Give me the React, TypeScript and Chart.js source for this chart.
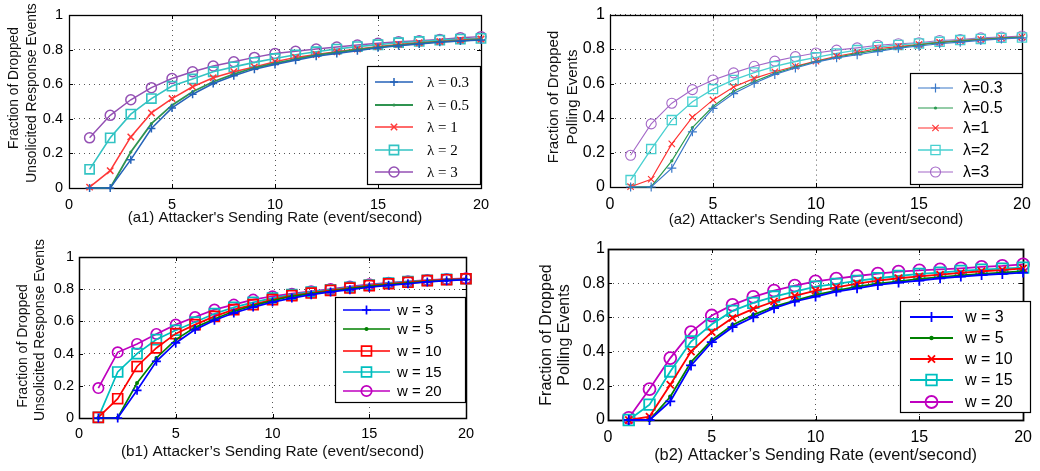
import React, { useEffect, useRef } from "react";
import { Chart, registerables } from "chart.js";
Chart.register(...registerables);

// ---------- data ----------
const xValues = [1, 2, 3, 4, 5, 6, 7, 8, 9, 10, 11, 12, 13, 14, 15, 16, 17, 18, 19, 20];
const yTicks = [0, 0.2, 0.4, 0.6, 0.8, 1];
const xTicks = [0, 5, 10, 15, 20];

const a1Labels = ["λ = 0.3", "λ = 0.5", "λ = 1", "λ = 2", "λ = 3"];
const a1L03 = [0, 0, 0.164, 0.344, 0.463, 0.542, 0.604, 0.649, 0.687, 0.714, 0.739, 0.762, 0.778, 0.793, 0.81, 0.822, 0.832, 0.842, 0.849, 0.855];
const a1L05 = [0, 0, 0.208, 0.372, 0.479, 0.556, 0.614, 0.658, 0.695, 0.72, 0.745, 0.768, 0.784, 0.8, 0.813, 0.826, 0.836, 0.846, 0.851, 0.859];
const a1L1 = [0.005, 0.1, 0.295, 0.434, 0.517, 0.585, 0.637, 0.672, 0.7, 0.73, 0.755, 0.772, 0.788, 0.803, 0.817, 0.83, 0.84, 0.847, 0.855, 0.861];
const a1L2 = [0.108, 0.29, 0.427, 0.517, 0.589, 0.63, 0.672, 0.7, 0.726, 0.749, 0.77, 0.788, 0.803, 0.817, 0.828, 0.84, 0.847, 0.855, 0.861, 0.865];
const a1L3 = [0.29, 0.42, 0.51, 0.58, 0.633, 0.672, 0.705, 0.73, 0.755, 0.778, 0.79, 0.803, 0.815, 0.826, 0.836, 0.846, 0.851, 0.859, 0.869, 0.875];

const a2Labels = ["λ=0.3", "λ=0.5", "λ=1", "λ=2", "λ=3"];
const a2L03 = [0, 0, 0.109, 0.32, 0.456, 0.542, 0.602, 0.653, 0.69, 0.724, 0.749, 0.767, 0.786, 0.805, 0.818, 0.831, 0.84, 0.85, 0.859, 0.865];
const a2L05 = [0, 0.002, 0.152, 0.345, 0.467, 0.555, 0.612, 0.659, 0.696, 0.728, 0.752, 0.775, 0.794, 0.809, 0.824, 0.837, 0.846, 0.855, 0.863, 0.869];
const a2L1 = [0.002, 0.045, 0.25, 0.405, 0.505, 0.58, 0.63, 0.668, 0.7, 0.73, 0.758, 0.78, 0.803, 0.814, 0.827, 0.84, 0.85, 0.857, 0.865, 0.87];
const a2L2 = [0.04, 0.22, 0.388, 0.495, 0.568, 0.621, 0.664, 0.7, 0.728, 0.752, 0.775, 0.794, 0.812, 0.824, 0.833, 0.842, 0.852, 0.859, 0.865, 0.867];
const a2L3 = [0.184, 0.366, 0.486, 0.565, 0.621, 0.662, 0.7, 0.73, 0.756, 0.777, 0.794, 0.807, 0.822, 0.831, 0.837, 0.85, 0.855, 0.865, 0.87, 0.876];

const b1Labels = ["w = 3", "w = 5", "w = 10", "w = 15", "w = 20"];
const b1W3 = [0, 0, 0.172, 0.352, 0.466, 0.549, 0.607, 0.652, 0.689, 0.72, 0.745, 0.766, 0.783, 0.797, 0.812, 0.824, 0.834, 0.845, 0.853, 0.859];
const b1W5 = [0, 0.002, 0.217, 0.373, 0.487, 0.563, 0.615, 0.663, 0.698, 0.729, 0.756, 0.772, 0.787, 0.803, 0.818, 0.828, 0.838, 0.847, 0.855, 0.861];
const b1W10 = [0.004, 0.12, 0.32, 0.435, 0.524, 0.58, 0.631, 0.673, 0.704, 0.735, 0.76, 0.776, 0.793, 0.807, 0.822, 0.834, 0.843, 0.853, 0.859, 0.865];
const b1W15 = [0.004, 0.286, 0.4, 0.487, 0.545, 0.596, 0.648, 0.687, 0.718, 0.745, 0.766, 0.783, 0.797, 0.812, 0.826, 0.838, 0.847, 0.855, 0.861, 0.865];
const b1W20 = [0.186, 0.408, 0.46, 0.522, 0.58, 0.627, 0.673, 0.704, 0.735, 0.756, 0.772, 0.787, 0.801, 0.816, 0.83, 0.84, 0.849, 0.857, 0.863, 0.867];

const b2Labels = ["w = 3", "w = 5", "w = 10", "w = 15", "w = 20"];
const b2W3 = [0, 0, 0.109, 0.319, 0.455, 0.543, 0.601, 0.654, 0.693, 0.722, 0.751, 0.77, 0.79, 0.804, 0.815, 0.829, 0.839, 0.848, 0.854, 0.862];
const b2W5 = [0, 0, 0.136, 0.339, 0.467, 0.556, 0.615, 0.663, 0.698, 0.732, 0.757, 0.78, 0.798, 0.811, 0.825, 0.835, 0.846, 0.854, 0.862, 0.87];
const b2W10 = [0, 0.02, 0.206, 0.4, 0.514, 0.597, 0.65, 0.693, 0.726, 0.757, 0.776, 0.798, 0.815, 0.829, 0.84, 0.85, 0.86, 0.87, 0.877, 0.887];
const b2W15 = [0, 0.09, 0.284, 0.459, 0.56, 0.638, 0.685, 0.722, 0.751, 0.78, 0.796, 0.813, 0.829, 0.842, 0.854, 0.862, 0.872, 0.879, 0.885, 0.891];
const b2W20 = [0.012, 0.181, 0.362, 0.514, 0.611, 0.673, 0.72, 0.757, 0.786, 0.811, 0.827, 0.842, 0.856, 0.868, 0.875, 0.881, 0.887, 0.895, 0.901, 0.91];

// ---------- styles ----------
type Marker = "plus" | "dot" | "x" | "square" | "circle";
type Series = { label: string; data: number[]; color: string; marker: Marker; radius: number; lw: number };
type Panel = {
  left: number; top: number; width: number; height: number;
  yAxisW: number; xAxisH: number; padTop: number; padRight: number;
  tickFont: number; xTickPad: number; yTickPad: number; frameW: number;
  xTitle: string; xTitleFont: number; xTitlePadBottom: number;
  yTitle: string[]; yTitleFont: number; yTitleX: number[]; yTitleCY: number[];
  legend: { x: number; y: number; w: number; h: number; rows: number[]; lx0: number; lx1: number; tx: number; font: string };
  series: Series[];
};

const SANS = "'Liberation Sans', Arial, Helvetica, sans-serif";
const SERIF = "'Liberation Serif', 'Times New Roman', serif";

const panels: Panel[] = [
  {
    left: 0, top: 0, width: 500, height: 232,
    yAxisW: 69, xAxisH: 44, padTop: 15, padRight: 19,
    tickFont: 14.5, xTickPad: 8, yTickPad: 6, frameW: 1.3,
    xTitle: "(a1) Attacker's Sending Rate (event/second)", xTitleFont: 15, xTitlePadBottom: 5,
    yTitle: ["Fraction of Dropped", "Unsolicited Response Events"], yTitleFont: 13.8, yTitleX: [14, 32], yTitleCY: [88, 93],
    legend: { x: 367, y: 66, w: 113, h: 118, rows: [82, 105, 127, 150, 172], lx0: 375, lx1: 413, tx: 427, font: `15px ${SERIF}` },
    series: [
      { label: a1Labels[0], data: a1L03, color: "#2462b8", marker: "plus", radius: 4, lw: 1.5 },
      { label: a1Labels[1], data: a1L05, color: "#2f9350", marker: "dot", radius: 1.6, lw: 1.8 },
      { label: a1Labels[2], data: a1L1, color: "#ff3838", marker: "x", radius: 4.5, lw: 1.5 },
      { label: a1Labels[3], data: a1L2, color: "#33c3c3", marker: "square", radius: 6.5, lw: 1.6 },
      { label: a1Labels[4], data: a1L3, color: "#9450b4", marker: "circle", radius: 5, lw: 1.5 },
    ],
  },
  {
    left: 520, top: 0, width: 520, height: 232,
    yAxisW: 90, xAxisH: 45, padTop: 9, padRight: 18,
    tickFont: 16, xTickPad: 8, yTickPad: 5, frameW: 1.3,
    xTitle: "(a2) Attacker's Sending Rate (event/second)", xTitleFont: 15, xTitlePadBottom: 3,
    yTitle: ["Fraction of Dropped", "Polling Events"], yTitleFont: 15, yTitleX: [34, 53], yTitleCY: [97, 97],
    legend: { x: 390, y: 73, w: 112, h: 111, rows: [88, 108, 128, 150, 172], lx0: 398, lx1: 433, tx: 443, font: `16px ${SANS}` },
    series: [
      { label: a2Labels[0], data: a2L03, color: "#3a78c8", marker: "plus", radius: 4.5, lw: 1.2 },
      { label: a2Labels[1], data: a2L05, color: "#2a9a50", marker: "dot", radius: 1.6, lw: 1.2 },
      { label: a2Labels[2], data: a2L1, color: "#ff3030", marker: "x", radius: 4.5, lw: 1.1 },
      { label: a2Labels[3], data: a2L2, color: "#48d0d0", marker: "square", radius: 6.5, lw: 1.3 },
      { label: a2Labels[4], data: a2L3, color: "#a468c8", marker: "circle", radius: 5, lw: 1.1 },
    ],
  },
  {
    left: 0, top: 235, width: 500, height: 236,
    yAxisW: 79, xAxisH: 53, padTop: 22, padRight: 34,
    tickFont: 14.5, xTickPad: 7, yTickPad: 5, frameW: 1.5,
    xTitle: "(b1) Attacker’s Sending Rate (event/second)", xTitleFont: 15.4, xTitlePadBottom: 9.7,
    yTitle: ["Fraction of Dropped", "Unsolicited Response Events"], yTitleFont: 14, yTitleX: [23, 40], yTitleCY: [111, 95],
    legend: { x: 335, y: 62, w: 130, h: 105, rows: [75, 94, 116, 137, 156], lx0: 343, lx1: 390, tx: 397, font: `15px ${SANS}` },
    series: [
      { label: b1Labels[0], data: b1W3, color: "#0000ff", marker: "plus", radius: 4.5, lw: 1.7 },
      { label: b1Labels[1], data: b1W5, color: "#008000", marker: "dot", radius: 2, lw: 1.7 },
      { label: b1Labels[2], data: b1W10, color: "#ff0000", marker: "square", radius: 7, lw: 1.7 },
      { label: b1Labels[3], data: b1W15, color: "#00bfbf", marker: "square", radius: 7, lw: 1.7 },
      { label: b1Labels[4], data: b1W20, color: "#bf00bf", marker: "circle", radius: 5.2, lw: 1.7 },
    ],
  },
  {
    left: 520, top: 235, width: 520, height: 236,
    yAxisW: 88, xAxisH: 51, padTop: 14, padRight: 9,
    tickFont: 16, xTickPad: 8, yTickPad: 3, frameW: 1.8,
    xTitle: "(b2) Attacker’s Sending Rate (event/second)", xTitleFont: 16.4, xTitlePadBottom: 6,
    yTitle: ["Fraction of Dropped", "Polling Events"], yTitleFont: 16, yTitleX: [27, 45], yTitleCY: [100, 100],
    legend: { x: 380, y: 66, w: 130, h: 111, rows: [82, 103, 124, 145, 167], lx0: 390, lx1: 433, tx: 445, font: `16px ${SANS}` },
    series: [
      { label: b2Labels[0], data: b2W3, color: "#0000ff", marker: "plus", radius: 5, lw: 1.8 },
      { label: b2Labels[1], data: b2W5, color: "#008000", marker: "dot", radius: 2.2, lw: 1.8 },
      { label: b2Labels[2], data: b2W10, color: "#ff0000", marker: "x", radius: 5, lw: 1.8 },
      { label: b2Labels[3], data: b2W15, color: "#00bfbf", marker: "square", radius: 7.5, lw: 1.8 },
      { label: b2Labels[4], data: b2W20, color: "#bf00bf", marker: "circle", radius: 6, lw: 1.8 },
    ],
  },
];

const pointStyleOf: Record<Marker, string> = {
  plus: "cross", dot: "circle", x: "crossRot", square: "rect", circle: "circle",
};

function drawMarker(ctx: CanvasRenderingContext2D, m: Marker, x: number, y: number, r: number, color: string, lw: number) {
  ctx.save();
  ctx.strokeStyle = color;
  ctx.fillStyle = color;
  ctx.lineWidth = lw;
  ctx.beginPath();
  if (m === "plus") {
    ctx.moveTo(x - r, y); ctx.lineTo(x + r, y);
    ctx.moveTo(x, y - r); ctx.lineTo(x, y + r);
    ctx.stroke();
  } else if (m === "x") {
    const d = r * Math.SQRT1_2;
    ctx.moveTo(x - d, y - d); ctx.lineTo(x + d, y + d);
    ctx.moveTo(x - d, y + d); ctx.lineTo(x + d, y - d);
    ctx.stroke();
  } else if (m === "square") {
    const s = r * Math.SQRT1_2;
    ctx.rect(x - s, y - s, 2 * s, 2 * s);
    ctx.stroke();
  } else if (m === "circle") {
    ctx.arc(x, y, r, 0, Math.PI * 2);
    ctx.stroke();
  } else {
    ctx.arc(x, y, r, 0, Math.PI * 2);
    ctx.fill();
  }
  ctx.restore();
}

function makeDecor(p: Panel) {
  return {
    id: "decor",
    beforeDatasetsDraw(chart: any) {
      const { ctx, chartArea: a, scales } = chart;
      ctx.save();
      ctx.strokeStyle = "#000";
      ctx.lineWidth = p.frameW;
      ctx.strokeRect(Math.round(a.left) + 0.5, Math.round(a.top) + 0.5, Math.round(a.right - a.left), Math.round(a.bottom - a.top));
      const tl = 4;
      ctx.lineWidth = 1;
      ctx.beginPath();
      for (const t of scales.x.ticks) {
        const px = Math.round(scales.x.getPixelForValue(t.value)) + 0.5;
        ctx.moveTo(px, a.bottom); ctx.lineTo(px, a.bottom - tl);
        ctx.moveTo(px, a.top); ctx.lineTo(px, a.top + tl);
      }
      for (const t of scales.y.ticks) {
        const py = Math.round(scales.y.getPixelForValue(t.value)) + 0.5;
        ctx.moveTo(a.left, py); ctx.lineTo(a.left + tl, py);
        ctx.moveTo(a.right, py); ctx.lineTo(a.right - tl, py);
      }
      ctx.stroke();
      ctx.restore();
    },
    afterDraw(chart: any) {
      const ctx: CanvasRenderingContext2D = chart.ctx;
      // y-axis title (two lines, rotated)
      ctx.save();
      ctx.fillStyle = "#111";
      ctx.font = `${p.yTitleFont}px ${SANS}`;
      ctx.textAlign = "center";
      ctx.textBaseline = "middle";
      p.yTitle.forEach((line, i) => {
        ctx.save();
        ctx.translate(p.yTitleX[i], p.yTitleCY[i]);
        ctx.rotate(-Math.PI / 2);
        ctx.fillText(line, 0, 0);
        ctx.restore();
      });
      ctx.restore();
      // legend box
      const L = p.legend;
      ctx.save();
      ctx.fillStyle = "#fff";
      ctx.fillRect(L.x, L.y, L.w, L.h);
      ctx.strokeStyle = "#000";
      ctx.lineWidth = 1.2;
      ctx.strokeRect(L.x + 0.5, L.y + 0.5, L.w, L.h);
      ctx.font = L.font;
      ctx.textBaseline = "middle";
      ctx.textAlign = "left";
      chart.data.datasets.forEach((ds: any, i: number) => {
        const s = p.series[i];
        const y = L.rows[i];
        ctx.strokeStyle = s.color;
        ctx.lineWidth = s.lw;
        ctx.beginPath();
        ctx.moveTo(L.lx0, y); ctx.lineTo(L.lx1, y);
        ctx.stroke();
        drawMarker(ctx, s.marker, (L.lx0 + L.lx1) / 2, y, s.radius, s.color, s.lw);
        ctx.fillStyle = "#000";
        ctx.fillText(ds.label, L.tx, y + 1);
      });
      ctx.restore();
    },
  };
}

function PanelChart({ p }: { p: Panel }) {
  const ref = useRef<HTMLCanvasElement | null>(null);
  useEffect(() => {
    if (!ref.current) return;
    const chart = new Chart(ref.current, {
      type: "line",
      data: {
        datasets: p.series.map((s) => ({
          label: s.label,
          data: xValues.map((x, i) => ({ x, y: s.data[i] })),
          borderColor: s.color,
          backgroundColor: s.marker === "dot" ? s.color : "rgba(0,0,0,0)",
          pointBackgroundColor: s.marker === "dot" ? s.color : "rgba(0,0,0,0)",
          pointBorderColor: s.color,
          borderWidth: s.lw,
          pointBorderWidth: s.marker === "dot" ? 0 : s.lw,
          pointStyle: pointStyleOf[s.marker] as any,
          pointRadius: s.radius,
          pointHoverRadius: s.radius,
          tension: 0,
          fill: false,
          clip: false as any,
        })),
      },
      options: {
        animation: false,
        responsive: false,
        devicePixelRatio: 1,
        events: [],
        layout: { padding: { top: p.padTop, right: p.padRight, left: 0, bottom: 0 } },
        plugins: { legend: { display: false }, tooltip: { enabled: false } },
        scales: {
          x: {
            type: "linear",
            min: 0,
            max: 20,
            afterBuildTicks: (scale: any) => { scale.ticks = xTicks.map((v) => ({ value: v })); },
            afterFit: (scale: any) => { scale.height = p.xAxisH; },
            ticks: { color: "#000", font: { size: p.tickFont, family: SANS }, padding: p.xTickPad, maxRotation: 0, autoSkip: false },
            grid: { color: "#555", lineWidth: 1, drawTicks: false },
            border: { display: false, dash: [1, 4] },
            title: { display: true, text: p.xTitle, color: "#111", font: { size: p.xTitleFont, family: SANS }, padding: { top: 0, bottom: p.xTitlePadBottom } },
          },
          y: {
            type: "linear",
            min: 0,
            max: 1,
            afterBuildTicks: (scale: any) => { scale.ticks = yTicks.map((v) => ({ value: v })); },
            afterFit: (scale: any) => { scale.width = p.yAxisW; },
            ticks: {
              color: "#000", font: { size: p.tickFont, family: SANS }, padding: p.yTickPad, autoSkip: false,
              callback: (v: any) => String(Math.round(Number(v) * 10) / 10),
            },
            grid: { color: "#555", lineWidth: 1, drawTicks: false },
            border: { display: false, dash: [1, 4] },
          },
        },
      },
      plugins: [makeDecor(p)],
    });
    return () => chart.destroy();
  }, [p]);
  return (
    <canvas
      ref={ref}
      width={p.width}
      height={p.height}
      style={{ position: "absolute", left: p.left, top: p.top, width: p.width, height: p.height }}
    />
  );
}

export default function App() {
  return (
    <div style={{ position: "absolute", left: 0, top: 0, width: 1040, height: 471, background: "#fff", overflow: "hidden" }}>
      {panels.map((p, i) => (
        <PanelChart key={i} p={p} />
      ))}
    </div>
  );
}
